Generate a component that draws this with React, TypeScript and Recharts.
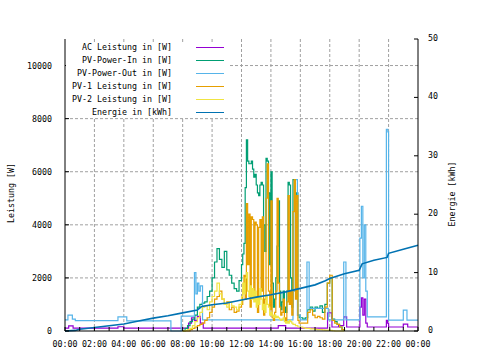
import React from 'react';
import { LineChart, Line, XAxis, YAxis, CartesianGrid, Legend } from 'recharts';

const FONT = '"DejaVu Sans Mono", "Liberation Mono", monospace';
const FS = 8.3;

// axis ticks
const hourTicks = [0, 1, 2, 3, 4, 5, 6, 7, 8, 9, 10, 11, 12, 13, 14, 15, 16, 17, 18, 19, 20, 21, 22, 23, 24];
const gridHours = [2, 4, 6, 8, 10, 12, 14, 16, 18, 20, 22];
const powerTicks = [0, 2000, 4000, 6000, 8000, 10000];
const gridPower = [2000, 4000, 6000, 8000, 10000];
const energyTicks = [0, 10, 20, 30, 40, 50];

// solar strings: 10 min samples 08:00-11:50, 5 min 12:00-15:55, 10 min 16:00-19:00
const solarTimes = [
  ...Array.from({ length: 24 }, (_, i) => 8 + i / 6),
  ...Array.from({ length: 48 }, (_, i) => 12 + i / 12),
  ...Array.from({ length: 19 }, (_, i) => 16 + i / 6),
];
const pvIn = [
  0, 100, 200, 350, 450, 600, 900, 1000, 1050, 1100, 1300, 1500,
  2000, 2600, 3100, 2700, 2400, 3000, 2300, 2100, 1800, 1600, 1500, 1900,
  2500, 2900, 3300, 5400, 7200, 6400, 6300, 6300, 6400, 6100, 5800, 5900,
  5500, 5200, 5100, 5500, 5600, 5500, 4000, 3000, 6500, 6400, 5200, 2500,
  6000, 1800, 900, 1200, 2000, 3200, 4900, 1500, 800, 1100, 1500, 900,
  700, 1500, 5600, 5500, 2000, 900, 5700, 5700, 5000, 5200, 600, 500,
  500, 450, 500, 800, 900, 750, 900, 850, 950, 700, 1000, 1800, 2000,
  450, 350, 250, 150, 50, 0,
];
const pv1 = [
  0, 0, 0, 50, 100, 150, 200, 250, 300, 400, 500, 700,
  900, 1200, 1300, 1500, 1200, 1000, 1100, 800, 900, 700, 750, 900,
  1000, 1500, 2100, 1200, 4800, 2500, 4400, 900, 4300, 4200, 1300, 4100,
  4000, 700, 3900, 4200, 1500, 4300, 600, 1200, 5000, 6300, 1500, 800,
  4900, 500, 400, 700, 1500, 5000, 1800, 900, 600, 700, 1200, 500,
  400, 1100, 5100, 1000, 1500, 600, 4500, 5700, 1200, 5100, 400, 300,
  300, 300, 300, 700, 800, 600, 500, 550, 500, 450, 900, 1800, 2100,
  400, 300, 250, 150, 50, 0,
];
const pv2 = [
  0, 20, 50, 100, 200, 350, 500, 700, 900, 950, 800, 1100,
  1300, 1500, 1800, 1400, 1200, 1000, 900, 1100, 950, 900, 800, 1000,
  1300, 1800, 1400, 2000, 2200, 1500, 1300, 1700, 1200, 1600, 1100, 1500,
  900, 1300, 1000, 1600, 1200, 800, 1000, 700, 1300, 1000, 900, 600,
  700, 600, 500, 600, 500, 550, 500, 450, 400, 450, 500, 350,
  300, 350, 300, 400, 350, 300, 250, 250, 200, 200, 150, 150,
  150, 120, 100, 100, 80, 80, 60, 50, 50, 40, 30, 30, 20,
  10, 0, 0, 0, 0, 0,
];

// PV-Power-Out
const outTimes = [0, 0.2, 0.5, 0.7, 3.6, 4.2, 7.2, 7.9, 8.8, 8.9, 9.0, 9.1, 9.2, 9.35, 15.5, 15.65, 15.8, 16.0, 16.45, 16.6, 17.9, 18.95, 19.1, 20.05, 20.15, 20.25, 20.35, 20.45, 20.55, 21.85, 21.95, 22.0, 23.0, 23.25, 24];
const pvOut = [420, 600, 450, 390, 530, 380, 0, 560, 2200, 1400, 1800, 1500, 1700, 420, 1500, 5700, 600, 420, 2600, 850, 420, 2600, 420, 3500, 4700, 2000, 4000, 1500, 530, 7600, 7500, 410, 790, 410, 410];

// AC Leistung
const acTimes = [0, 0.25, 0.55, 3.6, 4.0, 8.4, 8.6, 8.8, 9.0, 9.2, 9.4, 14.5, 15.0, 17.85, 18.15, 18.6, 18.95, 19.15, 20.05, 20.15, 20.25, 20.35, 20.45, 20.55, 21.85, 21.92, 22.0, 23.0, 23.3, 24];
const acPower = [110, 190, 110, 160, 110, 300, 500, 400, 550, 300, 110, 200, 110, 680, 150, 200, 530, 150, 900, 1250, 600, 1200, 300, 150, 400, 300, 150, 260, 150, 150];

// Energie (kWh, right axis)
const energyTimes = [0, 0.7, 1, 2, 3, 4, 5, 6, 7, 8, 9, 9.3, 10, 11, 12, 13, 14, 15, 16, 17, 17.7, 18, 19, 20, 20.2, 21, 21.9, 22.0, 23, 24];
const energy = [0, 0.1, 0.3, 0.6, 0.9, 1.2, 1.7, 2.2, 2.6, 3.1, 3.6, 4.2, 4.5, 4.8, 5.3, 5.8, 6.2, 6.7, 7.3, 7.9, 8.6, 9.0, 9.8, 10.4, 11.5, 12.1, 12.6, 13.3, 14.0, 14.7];

const zip = (t: number[], v: number[]) => t.map((x, i) => ({ t: x, v: v[i] }));

const SERIES = [
  { name: 'AC Leistung in [W]', color: '#9400d3', data: zip(acTimes, acPower), axis: 'w' },
  { name: 'PV-Power-In in [W]', color: '#009e73', data: zip(solarTimes, pvIn), axis: 'w' },
  { name: 'PV-Power-Out in [W]', color: '#56b4e9', data: zip(outTimes, pvOut), axis: 'w' },
  { name: 'PV-1 Leistung in [W]', color: '#e69f00', data: zip(solarTimes, pv1), axis: 'w' },
  { name: 'PV-2 Leistung in [W]', color: '#f0e442', data: zip(solarTimes, pv2), axis: 'w' },
  { name: 'Energie in [kWh]', color: '#0072b2', data: zip(energyTimes, energy), axis: 'e' },
];

const txt = { fontFamily: FONT, fontSize: FS, fill: '#000' };

const hh = (h: number) => `${String(h % 24).padStart(2, '0')}:00`;

const XTick = ({ x, y, payload }: any) => (
  <g>
    <line x1={x} y1={y} x2={x} y2={y - 4} stroke="#000" />
    {payload.value % 2 === 0 && (
      <text x={x} y={y + 16} textAnchor="middle" style={txt}>{hh(payload.value)}</text>
    )}
  </g>
);

const LeftTick = ({ x, y, payload }: any) => (
  <g>
    <line x1={x} y1={y} x2={x + 4} y2={y} stroke="#000" />
    <text x={x - 13} y={y + 3} textAnchor="end" style={txt}>{payload.value}</text>
  </g>
);

const RightTick = ({ x, y, payload }: any) => (
  <g>
    <line x1={x} y1={y} x2={x - 4} y2={y} stroke="#000" />
    <text x={x + 10} y={y + 2} textAnchor="start" style={txt}>{payload.value}</text>
  </g>
);

// opaque key box, top left inside the plot (gnuplot style)
const renderKey = () => (
  <div style={{ position: 'relative', width: 480, height: 130, fontFamily: FONT, fontSize: FS }}>
    <div style={{ position: 'absolute', left: 66, top: 43, width: 164, height: 74, background: '#fff' }} />
    {SERIES.map((s, i) => (
      <div key={s.name} style={{ position: 'absolute', left: 0, top: 41 + i * 12.95, width: 225, height: 12 }}>
        <span style={{ position: 'absolute', right: 53, top: 0, lineHeight: '12px', whiteSpace: 'pre', color: '#000' }}>{s.name}</span>
        <span style={{ position: 'absolute', left: 196, top: 6, width: 28, height: 1, background: s.color }} />
      </div>
    ))}
  </div>
);

export default function App() {
  return (
    <div style={{ position: 'absolute', left: 0, top: 0, width: 480, height: 360, background: '#fff' }}>
      <LineChart width={480} height={360} margin={{ top: 39, right: 0, bottom: 0, left: 0 }}>
        <CartesianGrid
          xAxisId={0}
          yAxisId="w"
          stroke="#a0a0a0"
          strokeDasharray="3 2"
          verticalValues={gridHours}
          horizontalValues={gridPower}
        />
        <XAxis
          xAxisId={0}
          dataKey="t"
          type="number"
          domain={[0, 24]}
          ticks={hourTicks}
          interval={0}
          height={29}
          tickSize={0}
          tickMargin={0}
          tickLine={false}
          axisLine={{ stroke: '#000' }}
          tick={<XTick />}
        />
        <XAxis
          xAxisId="top"
          orientation="top"
          dataKey="t"
          type="number"
          domain={[0, 24]}
          height={0}
          tick={false}
          tickLine={false}
          axisLine={{ stroke: '#000' }}
          label={() => (
            <text x={226} y={21} textAnchor="middle" style={txt}>Tagesdiagramm vom 2025-09-27</text>
          )}
        />
        <YAxis
          yAxisId="w"
          width={65}
          domain={[0, 11000]}
          ticks={powerTicks}
          interval={0}
          tickSize={0}
          tickMargin={0}
          tickLine={false}
          axisLine={{ stroke: '#000' }}
          tick={<LeftTick />}
          label={() => (
            <text x={14} y={193} textAnchor="middle" transform="rotate(-90 14 193)" style={txt}>Leistung [W]</text>
          )}
        />
        <YAxis
          yAxisId="e"
          orientation="right"
          width={62}
          domain={[0, 50]}
          ticks={energyTicks}
          interval={0}
          tickSize={0}
          tickMargin={0}
          tickLine={false}
          axisLine={{ stroke: '#000' }}
          tick={<RightTick />}
          label={() => (
            <text x={455} y={194} textAnchor="middle" transform="rotate(-90 455 194)" style={txt}>Energie [kWh]</text>
          )}
        />
        {SERIES.map((s) => (
          <Line
            key={s.name}
            name={s.name}
            data={s.data}
            dataKey="v"
            yAxisId={s.axis}
            type={s.axis === 'e' ? 'linear' : 'stepAfter'}
            stroke={s.color}
            strokeWidth={s.axis === 'e' ? 1.6 : 1.2}
            dot={false}
            activeDot={false}
            isAnimationActive={false}
          />
        ))}
        <Legend
          layout="vertical"
          align="center"
          verticalAlign="middle"
          wrapperStyle={{ left: 0, top: 0, width: 480, height: 130 }}
          content={renderKey}
        />
      </LineChart>
    </div>
  );
}
